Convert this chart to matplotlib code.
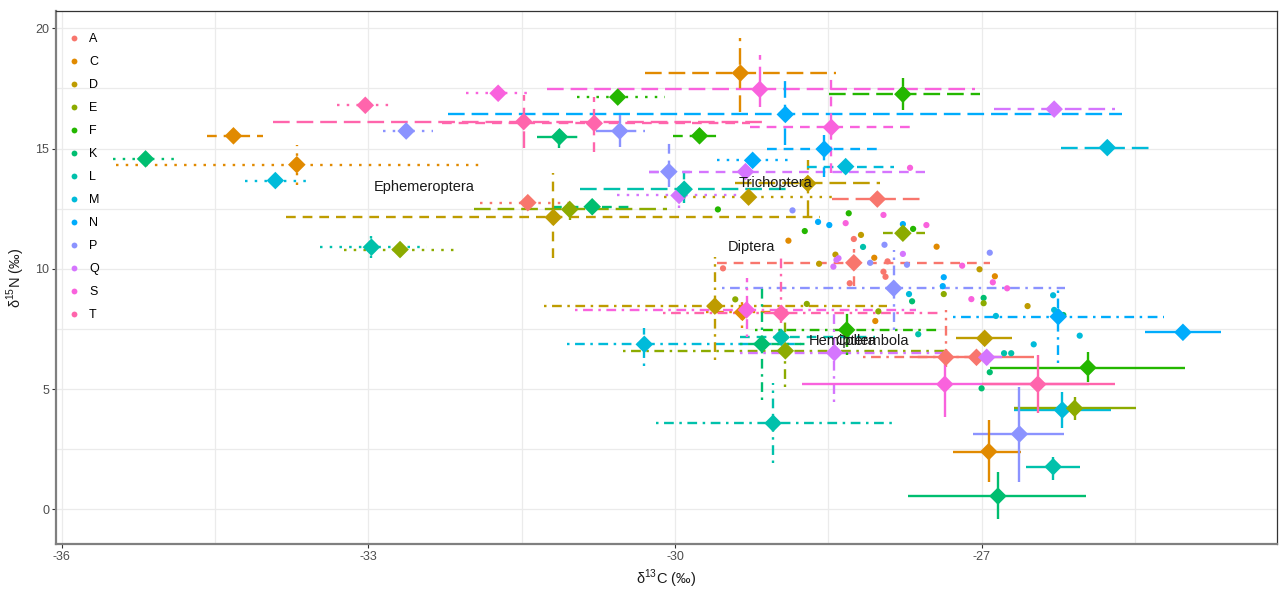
import matplotlib
matplotlib.use('Agg')
import matplotlib.pyplot as plt
from matplotlib.lines import Line2D

plt.rcParams['font.family'] = ['Liberation Sans', 'DejaVu Sans']
plt.rcParams['lines.scale_dashes'] = False
plt.rcParams['mathtext.fontset'] = 'custom'
plt.rcParams['mathtext.rm'] = 'Liberation Sans'

groups = ['A', 'C', 'D', 'E', 'F', 'K', 'L', 'M', 'N', 'P', 'Q', 'S', 'T']
palette = ['#F8766D', '#E18A00', '#BE9C00', '#8CAB00', '#24B700', '#00BE70', '#00C1AB',
           '#00BBDA', '#00ACFC', '#8B93FF', '#D575FE', '#F962DD', '#FF65AC']
col = dict(zip(groups, palette))

# mean +- sd per taxon order and group
m_order = (['Ephemeroptera'] * 13 + ['Trichoptera'] * 13 + ['Diptera'] * 13
           + ['Hemiptera'] * 13 + ['Collembola'] * 13)
m_group = ['K', 'C', 'M', 'T', 'P', 'L', 'E', 'S', 'F', 'A', 'N', 'Q', 'D',
           'C', 'T', 'S', 'N', 'D', 'Q', 'M', 'L', 'E', 'A', 'F', 'K', 'P',
           'D', 'C', 'T', 'S', 'N', 'M', 'P', 'Q', 'K', 'A', 'E', 'F', 'L',
           'D', 'C', 'S', 'T', 'F', 'M', 'K', 'E', 'Q', 'L', 'P', 'N', 'A',
           'N', 'D', 'A', 'Q', 'F', 'S', 'T', 'M', 'E', 'P', 'C', 'L', 'K']
m_x = [-35.18, -33.70, -33.91, -33.03, -32.63, -32.97, -32.69, -31.73, -30.56, -31.44, -29.24, -29.96, -29.28,
       -29.36, -31.48, -29.17, -28.92, -28.70, -26.29, -25.77, -29.91, -31.03, -28.02, -27.77, -31.13, -30.54,
       -31.19, -34.32, -30.79, -28.47, -28.54, -28.33, -30.06, -29.31, -30.81, -28.25, -27.77, -29.76, -28.96,
       -29.61, -29.34, -29.30, -28.96, -28.32, -30.30, -29.15, -28.92, -28.44, -29.04, -27.86, -26.25, -27.35,
       -25.03, -26.97, -27.05, -26.95, -25.96, -27.36, -26.45, -26.21, -26.09, -26.63, -26.93, -26.30, -26.84]
m_y = [14.57, 14.33, 13.67, 16.80, 15.73, 10.90, 10.80, 17.30, 17.14, 12.75, 14.51, 13.05, 12.98,
       18.14, 16.12, 17.46, 16.42, 13.55, 16.64, 15.04, 13.31, 12.47, 12.90, 17.26, 15.49, 15.73,
       12.14, 15.53, 16.05, 15.88, 14.98, 14.25, 14.04, 14.04, 12.58, 10.25, 11.48, 15.53, 7.15,
       8.45, 8.19, 8.29, 8.15, 7.46, 6.86, 6.87, 6.59, 6.51, 3.58, 9.19, 8.01, 6.32,
       7.36, 7.11, 6.32, 6.32, 5.89, 5.20, 5.20, 4.13, 4.20, 3.13, 2.40, 1.77, 0.55]
m_xmin = [-35.50, -35.47, -34.21, -33.31, -32.86, -33.47, -33.24, -32.04, -30.96, -31.91, -29.59, -30.57, -30.11,
          -30.29, -33.93, -31.25, -32.22, -29.41, -26.88, -26.22, -30.93, -31.97, -28.46, -28.49, -31.35, -30.77,
          -33.81, -34.58, -32.28, -29.27, -29.10, -28.71, -30.25, -30.25, -31.20, -29.59, -27.96, -30.02, -29.36,
          -31.28, -29.70, -30.98, -30.12, -29.22, -31.06, -29.36, -30.51, -29.36, -30.19, -29.54, -27.28, -28.16,
          -25.40, -27.25, -27.68, -27.10, -26.92, -28.76, -27.00, -26.68, -26.68, -27.08, -27.28, -26.57, -27.72]
m_xmax = [-34.87, -31.87, -33.57, -32.74, -32.37, -32.43, -32.15, -31.42, -30.10, -31.04, -28.88, -29.36, -28.42,
          -28.42, -29.10, -27.06, -25.63, -27.99, -25.69, -25.31, -28.87, -30.08, -27.55, -27.02, -30.91, -30.29,
          -28.58, -34.03, -29.27, -27.64, -27.96, -27.86, -29.85, -27.55, -30.44, -26.92, -27.55, -29.53, -28.04,
          -27.93, -29.00, -27.64, -27.40, -27.40, -28.77, -28.70, -27.34, -27.34, -27.83, -26.18, -25.22, -27.10,
          -24.66, -26.70, -26.49, -26.80, -25.01, -25.95, -25.69, -25.73, -25.49, -26.19, -26.61, -26.04, -25.98]
m_ymin = [14.30, 13.49, 13.40, 16.80, 15.73, 10.45, 10.50, 17.30, 17.14, 12.75, 14.51, 12.53, 12.75,
          16.53, 15.01, 16.74, 15.15, 12.17, 16.64, 15.04, 12.73, 12.03, 12.60, 16.60, 15.01, 15.08,
          10.44, 15.53, 14.87, 13.97, 13.83, 14.25, 13.41, 14.04, 12.58, 9.28, 11.48, 15.53, 7.15,
          6.21, 7.53, 7.18, 7.75, 6.42, 5.96, 4.54, 5.10, 4.47, 1.91, 7.46, 6.07, 5.93,
          7.36, 7.11, 6.32, 6.00, 5.31, 3.85, 3.99, 3.37, 3.71, 1.15, 1.15, 1.22, -0.42]
m_ymax = [14.85, 15.15, 13.97, 16.80, 15.73, 11.61, 11.05, 17.30, 17.14, 12.75, 14.51, 13.57, 13.20,
          19.58, 17.22, 18.89, 17.85, 14.52, 16.64, 15.04, 13.97, 12.93, 13.20, 17.92, 15.98, 16.39,
          13.97, 15.53, 17.16, 17.90, 15.56, 14.25, 15.43, 14.04, 12.58, 10.81, 11.48, 15.53, 7.15,
          10.50, 8.63, 9.62, 10.66, 8.29, 7.53, 9.26, 7.95, 8.16, 5.24, 10.79, 9.33, 8.29,
          7.36, 7.11, 6.32, 6.60, 6.55, 6.07, 6.42, 4.89, 4.68, 5.10, 3.71, 2.19, 1.56]

# individual samples
s_group = ['F', 'P', 'N', 'N', 'F', 'S', 'S', 'F', 'C', 'D', 'A', 'L', 'N', 'F', 'S', 'C', 'P',
           'D', 'Q', 'Q', 'Q', 'D', 'C', 'P', 'A', 'P', 'Q', 'A', 'A', 'A', 'A', 'E', 'E', 'N',
           'N', 'E', 'M', 'K', 'S', 'D', 'C', 'S', 'P', 'S', 'S', 'K', 'E', 'E', 'C', 'L', 'K',
           'K', 'S', 'D', 'M', 'M', 'K', 'M', 'M', 'M', 'L', 'L']
s_x = [-29.58, -28.85, -28.60, -28.49, -28.30, -28.33, -27.96, -28.73, -28.89, -28.18, -28.25,
       -28.16, -27.77, -27.67, -27.54, -27.44, -27.95, -28.43, -28.40, -28.42, -28.45, -28.59,
       -28.05, -28.09, -27.92, -27.73, -27.77, -27.96, -27.94, -28.29, -29.53, -29.41, -28.71,
       -27.37, -27.38, -27.37, -27.71, -27.68, -27.19, -27.02, -26.87, -26.89, -26.92, -26.75,
       -27.10, -26.98, -26.98, -28.01, -28.04, -27.62, -26.92, -27.00, -27.70, -26.55, -26.30,
       -26.29, -26.20, -26.86, -26.49, -26.04, -26.78, -26.71]
s_y = [12.47, 12.43, 11.95, 11.82, 12.31, 11.90, 12.24, 11.57, 11.17, 11.41, 11.24, 10.91, 11.86,
       11.66, 11.82, 10.92, 11.00, 10.59, 10.44, 10.37, 10.09, 10.21, 10.46, 10.25, 10.31, 10.17,
       10.62, 9.88, 9.67, 9.40, 10.02, 8.73, 8.54, 9.65, 9.28, 8.95, 8.95, 8.65, 10.13, 9.98, 9.69,
       9.44, 10.67, 9.19, 8.74, 8.79, 8.57, 8.23, 7.83, 7.28, 5.70, 5.03, 14.20, 8.45, 8.90, 8.29,
       8.08, 8.04, 6.86, 7.22, 6.49, 6.49]

order_labels = ['Ephemeroptera', 'Trichoptera', 'Diptera', 'Hemiptera', 'Collembola']
label_x = [-32.45, -29.02, -29.25, -28.36, -28.07]
label_y = [13.41, 13.56, 10.92, 7.01, 7.01]

linetypes = {'Ephemeroptera': (0, (1.8, 5.2)),
             'Trichoptera': (0, (12, 5)),
             'Diptera': (0, (7, 5)),
             'Hemiptera': (0, (1.8, 4, 7, 4)),
             'Collembola': 'solid'}

fig = plt.figure(figsize=(12.79, 5.89), dpi=100)
ax = fig.add_axes([0.0438, 0.0759, 0.9546, 0.9054])

for o in order_labels:
    idx = [i for i in range(len(m_x)) if m_order[i] == o]
    c = [col[m_group[i]] for i in idx]
    ax.hlines([m_y[i] for i in idx], [m_xmin[i] for i in idx], [m_xmax[i] for i in idx],
              colors=c, linestyles=[linetypes[o]], lw=1.7, zorder=2)
    ax.vlines([m_x[i] for i in idx], [m_ymin[i] for i in idx], [m_ymax[i] for i in idx],
              colors=c, linestyles=[linetypes[o]], lw=1.7, zorder=2)

ax.scatter(s_x, s_y, s=20, c=[col[g] for g in s_group], linewidths=0, zorder=3)
ax.scatter(m_x, m_y, s=80, marker='D', c=[col[g] for g in m_group], linewidths=0, zorder=4)

for t, x, y in zip(order_labels, label_x, label_y):
    ax.text(x, y, t, fontsize=10.5, color='#1A1A1A', ha='center', va='center', zorder=5)

ax.set_xlim(-36.056, -24.11)
ax.set_ylim(-1.455, 20.72)
ax.set_xticks([-36, -33, -30, -27])
ax.set_xticklabels(['-36', '-33', '-30', '-27'])
ax.set_yticks([0, 5, 10, 15, 20])
ax.set_xticks([-34.5, -31.5, -28.5, -25.5], minor=True)
ax.set_yticks([2.5, 7.5, 12.5, 17.5], minor=True)
ax.grid(True, which='both', color='#EBEBEB', lw=0.9, zorder=0)
ax.set_axisbelow(True)
ax.tick_params(which='major', length=3, width=0.8, color='#333333', labelcolor='#4D4D4D',
               labelsize=9, pad=2)
ax.tick_params(which='minor', length=0)
for s in ['top', 'right']:
    ax.spines[s].set_color('#333333')
    ax.spines[s].set_linewidth(0.9)
for s in ['left', 'bottom']:
    ax.spines[s].set_color('#7F7F7F')
    ax.spines[s].set_linewidth(1.6)

ax.set_xlabel('δ$^{13}$C (‰)', fontsize=10.5, color='#1A1A1A', labelpad=3)
ax.set_ylabel('δ$^{15}$N (‰)', fontsize=10.5, color='#1A1A1A', labelpad=6)

handles = [Line2D([], [], ls='none', marker='o', ms=4.2, mfc=col[g], mec='none') for g in groups]
ax.legend(handles, groups, loc='upper left', bbox_to_anchor=(0.0096, 0.958), frameon=False,
          fontsize=9, handlelength=1, handletextpad=0.7, labelspacing=0.88,
          borderpad=0, borderaxespad=0)

fig.savefig('out.png', dpi=100)
